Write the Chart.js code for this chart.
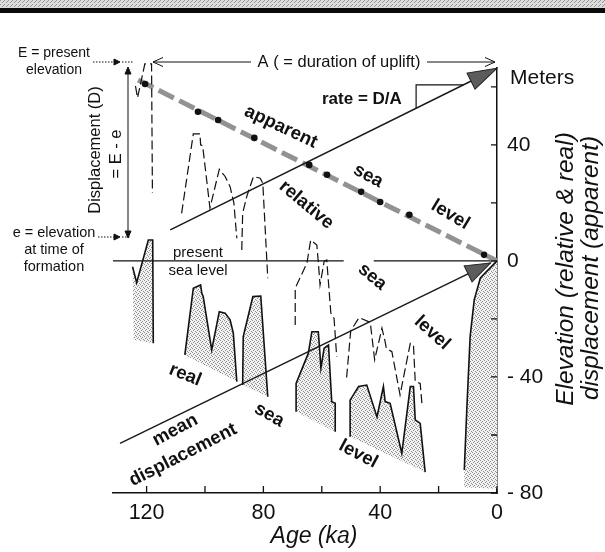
<!DOCTYPE html>
<html>
<head>
<meta charset="utf-8">
<script src="https://cdn.jsdelivr.net/npm/chart.js@4.4.1/dist/chart.umd.min.js"></script>
<style>
  html, body { margin: 0; padding: 0; background: #fff; }
  canvas { display: block; }
</style>
</head>
<body>
<canvas id="chart" width="605" height="552"></canvas>
<script>
// age in ka (x, reversed), elevation / displacement in metres (y)
const xTicks = [120, 100, 80, 60, 40, 20, 0];
const yTicks = [60, 40, 20, 0, -20, -40, -60, -80];
const xLabels = { 120: "120", 80: "80", 40: "40", 0: "0" };
const yLabels = { 40: "40", 0: "0", "-40": "- 40", "-80": "- 80" };

// real sea level highstands (solid, stippled)
const real1Age = [124.8, 123.4, 119.4, 117.9, 117.7];
const real1Elev = [-2.0, -7.5, 7.2, 7.2, -28.4];
const real2aAge = [106.9, 104.0, 101.5, 101.1, 100.6, 97.7, 95.1, 93.1, 91.4, 90.3, 89.1];
const real2aElev = [-32.4, -9.4, -8.3, -11.1, -12.3, -30.7, -17.5, -18.0, -20.3, -24.9, -41.6];
const real2bAge = [87.1, 86.9, 83.6, 80.9, 78.5];
const real2bElev = [-42.8, -26.1, -12.3, -12.1, -46.8];
const real3aAge = [68.8, 68.8, 64.6, 63.4, 61.2, 60.8, 60.3, 59.2, 57.7, 56.6, 55.4, 55.4];
const real3aElev = [-52.0, -42.2, -31.8, -24.4, -24.4, -29.6, -37.0, -30.1, -29.0, -48.5, -49.1, -58.9];
const real3bAge = [50.3, 50.3, 47.4, 44.6, 41.1, 38.9, 38.3, 36.6, 32.6, 29.7, 28.6, 28.0, 26.3, 24.6];
const real3bElev = [-60.6, -48.0, -43.3, -42.8, -53.8, -43.3, -48.5, -49.1, -66.3, -43.3, -43.3, -54.8, -56.0, -72.8];
const real4Age = [11.2, 10.3, 9.2, 7.8, 5.7, 0];
const real4Elev = [-72.1, -50.3, -26.1, -13.4, -5.9, 0];
// extra corners closing the stippled areas
const real1FloorAge = [124.4];
const real1FloorElev = [-27.2];
const real4FloorAge = [0, 11.3];
const real4FloorElev = [-78.5, -78.0];

// relative sea level (dashed)
const rel1Age = [123.8, 123.1, 120.6, 118.3, 118.0];
const rel1Elev = [60.3, 56.2, 67.9, 67.9, 23.4];
const rel2aAge = [108.0, 104.0, 101.7, 101.5, 100.8, 98.3, 95.1, 93.1, 91.4, 90.1, 89.1];
const rel2aElev = [16.4, 43.8, 43.8, 40.0, 39.7, 18.2, 31.6, 29.1, 25.6, 19.9, 7.8];
const rel2bAge = [87.4, 87.1, 85.7, 83.4, 81.1, 80.2, 78.5];
const rel2bElev = [3.8, 16.4, 22.2, 29.1, 28.5, 26.8, -6.0];
const rel3aAge = [69.1, 69.1, 65.1, 63.8, 61.7, 61.2, 60.6, 59.2, 58.3, 56.9, 55.8, 54.9];
const rel3aElev = [-22.1, -9.4, -0.8, 7.2, 5.5, -0.3, -8.3, -0.2, 0.3, -18.0, -19.8, -33.0];
const rel3bAge = [51.5, 50.1, 47.2, 43.4, 41.9, 39.4, 38.3, 37.9, 36.0, 33.2, 29.7, 28.6, 28.0, 26.3, 25.7];
const rel3bElev = [-40.2, -24.1, -19.5, -21.2, -34.1, -23.2, -27.9, -30.1, -31.3, -46.2, -28.4, -29.0, -41.6, -42.2, -49.3];

// apparent sea level and its highstand points
const apparentAge = [122.9, 0];
const apparentElev = [62.4, 0];
const dotAge = [120.5, 102.4, 95.5, 83.1, 64.3, 58.2, 46.5, 40.0, 30.0, 4.4];
const dotElev = [61.0, 51.4, 48.6, 42.4, 33.1, 29.7, 23.8, 20.3, 15.9, 2.1];

// mean displacement and rate lines, present sea level
const meanAge = [129.1, 2.2];
const meanElev = [-62.9, -0.7];
const rateAge = [111.9, 0];
const rateElev = [10.7, 66.4];
const presentAge = [131.5, 52.5, 47.3, 42.2, 0];
const presentElev = [0, 0, null, 0, 0];

const FONT = '"Liberation Sans", Arial, Helvetica, sans-serif';

function makePattern(bg, fg, dots) {
  const c = document.createElement("canvas");
  c.width = 4; c.height = 4;
  const g = c.getContext("2d");
  g.fillStyle = bg; g.fillRect(0, 0, 4, 4);
  g.fillStyle = fg;
  dots.forEach(([x, y]) => g.fillRect(x, y, 1, 1));
  return g.createPattern(c, "repeat");
}
const stipple = makePattern("#f2f2f2", "#8e8e8e", [[0, 0], [2, 1], [1, 2], [3, 3]]);
const bandFill = makePattern("#dcdcdc", "#959595", [[0, 0], [2, 2], [3, 1]]);

const pts = (xs, ys) => xs.map((x, i) => ({ x: x, y: ys[i] }));

function fillSet(xs, ys) {
  return { data: pts(xs, ys), fill: "shape", backgroundColor: stipple,
    borderColor: "rgba(0,0,0,0)", borderWidth: 0, pointRadius: 0, order: 6 };
}
function realSet(xs, ys) {
  return { data: pts(xs, ys), borderColor: "#111", borderWidth: 1.6, pointRadius: 0, fill: false, order: 2 };
}
function relSet(xs, ys) {
  return { data: pts(xs, ys), borderColor: "#111", borderWidth: 1.2, borderDash: [9, 4],
    pointRadius: 0, fill: false, order: 2 };
}

const datasets = [
  fillSet(real1Age.concat(real1FloorAge), real1Elev.concat(real1FloorElev)),
  fillSet(real2aAge, real2aElev),
  fillSet(real2bAge, real2bElev),
  fillSet(real3aAge, real3aElev),
  fillSet(real3bAge, real3bElev),
  fillSet(real4Age.concat(real4FloorAge), real4Elev.concat(real4FloorElev)),
  { data: pts(presentAge, presentElev), borderColor: "#111", borderWidth: 1.3, pointRadius: 0, order: 5 },
  { data: pts(apparentAge, apparentElev), borderColor: "#929292", borderWidth: 5, borderDash: [17, 6],
    borderCapStyle: "butt", pointRadius: 0, order: 4 },
  realSet(real1Age, real1Elev),
  realSet(real2aAge, real2aElev),
  realSet(real2bAge, real2bElev),
  realSet(real3aAge, real3aElev),
  realSet(real3bAge, real3bElev),
  realSet(real4Age, real4Elev),
  relSet(rel1Age, rel1Elev),
  relSet(rel2aAge, rel2aElev),
  relSet(rel2bAge, rel2bElev),
  relSet(rel3aAge, rel3aElev),
  relSet(rel3bAge, rel3bElev),
  { data: pts(meanAge, meanElev), borderColor: "#1a1a1a", borderWidth: 1.5, pointRadius: 0, order: 1 },
  { data: pts(rateAge, rateElev), borderColor: "#1a1a1a", borderWidth: 1.5, pointRadius: 0, order: 1 },
  { data: pts(dotAge, dotElev), showLine: false, pointRadius: 3.3, pointBackgroundColor: "#111",
    pointBorderColor: "#111", pointBorderWidth: 0, order: 0 }
];
datasets.forEach(d => { d.clip = false; });

function text(c, str, x, y, font, deg, align) {
  c.save();
  c.translate(x, y);
  if (deg) c.rotate(deg * Math.PI / 180);
  c.font = font;
  c.textAlign = align || "center";
  c.textBaseline = "middle";
  c.fillText(str, 0, 0);
  c.restore();
}

function head(c, x0, y0, x1, y1, len, half, open) {
  const a = Math.atan2(y1 - y0, x1 - x0);
  c.save();
  c.translate(x1, y1);
  c.rotate(a);
  c.beginPath();
  if (open) {
    c.moveTo(-len, -half); c.lineTo(0, 0); c.lineTo(-len, half);
    c.stroke();
  } else {
    c.moveTo(0, 0); c.lineTo(-len, -half); c.lineTo(-len, half); c.closePath();
    c.fill(); c.stroke();
  }
  c.restore();
}

const notes = {
  id: "notes",
  beforeDraw(chart) {
    const c = chart.ctx;
    c.save();
    c.fillStyle = "#fff"; c.fillRect(0, 0, chart.width, chart.height);
    c.fillStyle = bandFill; c.fillRect(0, 0, chart.width, 8);
    c.fillStyle = "#0a0a0a"; c.fillRect(0, 8, chart.width, 5);
    c.restore();
  },
  afterDraw(chart) {
    const c = chart.ctx;
    const xs = chart.scales.x, ys = chart.scales.y;
    const X = v => xs.getPixelForValue(v), Y = v => ys.getPixelForValue(v);
    const { right, bottom } = chart.chartArea;
    c.save();
    c.strokeStyle = "#111"; c.fillStyle = "#111";

    // inward tick marks
    c.lineWidth = 1.3;
    c.beginPath();
    xTicks.forEach(v => { c.moveTo(X(v), bottom); c.lineTo(X(v), bottom - 7); });
    yTicks.forEach(v => { c.moveTo(right, Y(v)); c.lineTo(right - 6, Y(v)); });
    c.stroke();

    // grey arrowheads on the mean displacement and rate lines
    c.fillStyle = "#5c5c5c"; c.strokeStyle = "#222"; c.lineWidth = 1;
    head(c, X(meanAge[0]), Y(meanElev[0]), X(meanAge[1]), Y(meanElev[1]), 25, 9);
    head(c, X(rateAge[0]), Y(rateElev[0]), X(rateAge[1]), Y(rateElev[1]), 29, 9);

    // rate = D/A bracket
    const slope = (rateAge[1] - rateAge[0]) / (rateElev[1] - rateElev[0]);
    const cornerAge = 27.7, cornerElev = 60.7;
    const hitAge = rateAge[0] + (cornerElev - rateElev[0]) * slope;
    const hitElev = rateElev[0] + (cornerAge - rateAge[0]) / slope;
    c.strokeStyle = "#111"; c.lineWidth = 1.2;
    c.beginPath();
    c.moveTo(X(hitAge), Y(cornerElev));
    c.lineTo(X(cornerAge), Y(cornerElev));
    c.lineTo(X(cornerAge), Y(hitElev));
    c.stroke();
    c.fillStyle = "#111";
    text(c, "rate = D/A", 322, 99, "bold 17px " + FONT, 0, "left");

    // A ( = duration of uplift)
    c.lineWidth = 1;
    c.beginPath();
    c.moveTo(153, 62); c.lineTo(251, 62);
    c.moveTo(427, 62); c.lineTo(495, 62);
    c.stroke();
    head(c, 200, 62, 153, 62, 10, 4.5, true);
    head(c, 450, 62, 495, 62, 10, 4.5, true);
    text(c, "A ( = duration of uplift)", 339, 62, "16.5px " + FONT);

    // E and e annotations
    text(c, "E = present", 54, 53, "14px " + FONT);
    text(c, "elevation", 54, 70, "14px " + FONT);
    text(c, "e = elevation", 54, 233, "14.5px " + FONT);
    text(c, "at time of", 54, 250, "14.5px " + FONT);
    text(c, "formation", 54, 267, "14.5px " + FONT);
    c.lineWidth = 1;
    c.setLineDash([1.5, 1.5]);
    c.beginPath();
    c.moveTo(93, 62); c.lineTo(116, 62);
    c.moveTo(122, 62); c.lineTo(134, 62);
    c.moveTo(98, 237); c.lineTo(115, 237);
    c.moveTo(122, 237); c.lineTo(131, 237);
    c.stroke();
    c.setLineDash([]);
    head(c, 100, 62, 120, 62, 6, 3);
    head(c, 100, 237, 120, 237, 6, 3);

    // displacement double arrow
    c.beginPath();
    c.moveTo(128, 72); c.lineTo(128, 233);
    c.stroke();
    head(c, 128, 100, 128, 67, 7, 3);
    head(c, 128, 200, 128, 238, 7, 3);
    text(c, "Displacement (D)", 95, 150, "16.5px " + FONT, -90);
    text(c, "= E - e", 116, 154, "16.5px " + FONT, -90);

    // present sea level
    text(c, "present", 198, 253, "15px " + FONT);
    text(c, "sea level", 198, 271, "15px " + FONT);

    // curve labels
    const bold = "bold 18.5px " + FONT;
    [
      ["apparent", 74.0, 46.2, 25], ["sea", 44.1, 29.3, 29], ["level", 16.0, 15.9, 31],
      ["relative", 65.3, 19.3, 40], ["sea", 42.7, -5.5, 40], ["level", 22.2, -24.8, 42],
      ["real", 106.8, -39.3, 22], ["sea", 78.0, -53.1, 30], ["level", 47.5, -66.6, 28],
      ["mean", 110.2, -58.3, -28], ["displacement", 107.5, -66.9, -27]
    ].forEach(([s, a, m, deg]) => text(c, s, X(a), Y(m), bold, deg));

    // axis titles and unit
    text(c, "Meters", 510, 78, "21px " + FONT, 0, "left");
    text(c, "Age (ka)", 314, 537, "italic 23px " + FONT);
    text(c, "Elevation (relative & real)", 566, 269, "italic 24.5px " + FONT, -90);
    text(c, "displacement (apparent)", 591, 268, "italic 24.5px " + FONT, -90);
    c.restore();
  }
};

new Chart(document.getElementById("chart"), {
  type: "line",
  data: { datasets: datasets },
  options: {
    responsive: false,
    animation: false,
    devicePixelRatio: 1,
    layout: { padding: { left: 113, top: 68, right: 0, bottom: 0 } },
    plugins: { legend: { display: false }, tooltip: { enabled: false } },
    scales: {
      x: {
        type: "linear", reverse: true, min: 0, max: 131.5,
        afterBuildTicks: a => { a.ticks = xTicks.map(v => ({ value: v })); },
        afterFit: a => { a.height = 59; },
        grid: { display: false, drawTicks: false },
        border: { display: true, color: "#111", width: 1.5 },
        ticks: { autoSkip: false, maxRotation: 0, padding: 7, color: "#111",
          font: { family: FONT, size: 21.5 }, callback: v => xLabels[v] || "" }
      },
      y: {
        type: "linear", position: "right", min: -80, max: 66.5,
        afterBuildTicks: a => { a.ticks = yTicks.map(v => ({ value: v })); },
        afterFit: a => { a.width = 108; },
        grid: { display: false, drawTicks: false },
        border: { display: true, color: "#111", width: 1.5 },
        ticks: { autoSkip: false, padding: 10, color: "#111",
          font: { family: FONT, size: 21 }, callback: v => yLabels[v] || "" }
      }
    }
  },
  plugins: [notes]
});
</script>
</body>
</html>
